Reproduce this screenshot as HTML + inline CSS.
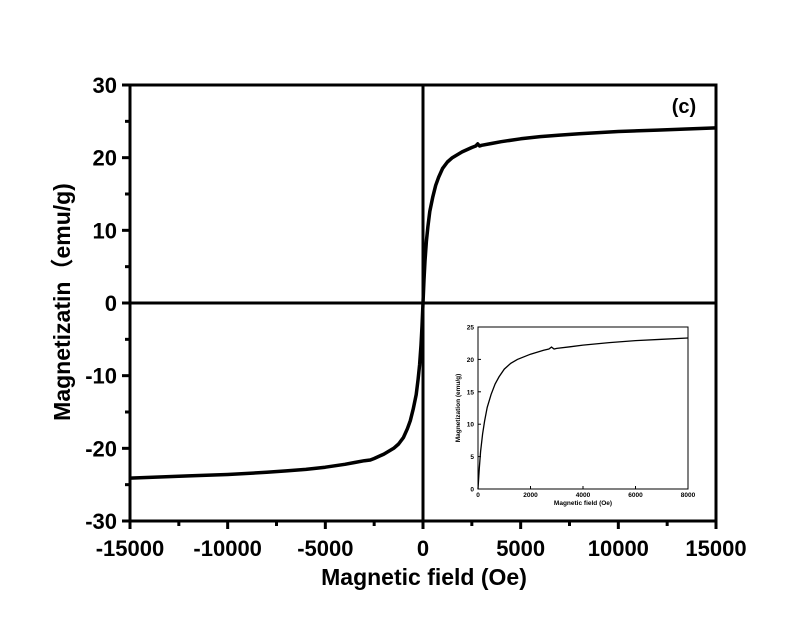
<!DOCTYPE html>
<html><head><meta charset="utf-8"><style>
html,body{margin:0;padding:0;background:#fff;}
svg{display:block;}
text{font-family:"Liberation Sans","Noto Sans CJK SC",sans-serif;font-weight:bold;fill:#000;}
</style></head><body>
<svg id="chart" width="800" height="633"></svg>
<script>
const fieldPos = [0,50,100,175,250,350,500,650,800,1000,1250,1500,2000,2500,2700,2800,2900,3000,3500,4000,5000,6000,7000,8000,10000,12000,15000];
const magPos   = [0,3.2,5.8,8.5,10.5,12.6,14.6,16.2,17.3,18.5,19.4,20.0,20.8,21.4,21.6,21.9,21.6,21.7,21.95,22.2,22.6,22.9,23.1,23.3,23.6,23.8,24.1];
const bumpField = [2800,2900];
const mainXTicks = [-15000,-10000,-5000,0,5000,10000,15000];
const mainYTicks = [-30,-20,-10,0,10,20,30];
const insetXTicks = [0,2000,4000,6000,8000];
const insetYTicks = [0,5,10,15,20,25];

const NS='http://www.w3.org/2000/svg';
const svg=document.getElementById('chart');
function el(tag,attrs,parent){const e=document.createElementNS(NS,tag);for(const k in attrs)e.setAttribute(k,attrs[k]);(parent||svg).appendChild(e);return e;}

const L=130,R=716,T=85,B=521;
const xs=v=>L+(v+15000)/30000*(R-L);
const ys=v=>B-(v+30)/60*(B-T);

const frame=el('rect',{x:L,y:T,width:R-L,height:B-T,fill:'none',stroke:'#000','stroke-width':3});



mainXTicks.forEach(v=>{
  const t=el('line',{x1:xs(v),x2:xs(v),y1:B,y2:B+8,stroke:'#000','stroke-width':3});
  
  
  const lb=el('text',{x:xs(v),y:B+35,'text-anchor':'middle','font-size':22});
  lb.textContent=v;
  
  
});
for(let v=-12500;v<15000;v+=5000){
  const t=el('line',{x1:xs(v),x2:xs(v),y1:B,y2:B+5,stroke:'#000','stroke-width':3});
  
  
}
mainYTicks.forEach(v=>{
  const t=el('line',{x1:L-8,x2:L,y1:ys(v),y2:ys(v),stroke:'#000','stroke-width':3});
  
  
  const lb=el('text',{x:L-13,y:ys(v)+8,'text-anchor':'end','font-size':22});
  lb.textContent=v;
  
  
});
for(let v=-25;v<30;v+=10){
  const t=el('line',{x1:L-5,x2:L,y1:ys(v),y2:ys(v),stroke:'#000','stroke-width':3});
  
  
}
const z1=el('line',{x1:L,x2:R,y1:ys(0),y2:ys(0),stroke:'#000','stroke-width':3});


const z2=el('line',{x1:xs(0),x2:xs(0),y1:T,y2:B,stroke:'#000','stroke-width':3});



let pts=[];
for(let i=fieldPos.length-1;i>0;i--){if(bumpField.indexOf(fieldPos[i])<0)pts.push([-fieldPos[i],-magPos[i]]);}
for(let i=0;i<fieldPos.length;i++)pts.push([fieldPos[i],magPos[i]]);
const curve=el('polyline',{points:pts.map(p=>xs(p[0]).toFixed(1)+','+ys(p[1]).toFixed(1)).join(' '),fill:'none',stroke:'#000','stroke-width':3.5,'stroke-linejoin':'round'});



const xt=el('text',{x:424,y:585,'text-anchor':'middle','font-size':23});
xt.textContent='Magnetic field (Oe)';


const yt=el('text',{x:0,y:0,'text-anchor':'middle','font-size':23,transform:'translate(70,302) rotate(-90)'});
yt.textContent='Magnetizatin（emu/g)';


const pl=el('text',{x:684,y:113,'text-anchor':'middle','font-size':20});
pl.textContent='(c)';



const iL=478,iR=688,iT=327,iB=489;
const ixs=v=>iL+v/8000*(iR-iL);
const iys=v=>iB-v/25*(iB-iT);
const ibg=el('rect',{x:iL,y:iT,width:iR-iL,height:iB-iT,fill:'#fff',stroke:'#000','stroke-width':1});


insetXTicks.forEach(v=>{
  const t=el('line',{x1:ixs(v),x2:ixs(v),y1:iB,y2:iB-3,stroke:'#000','stroke-width':1});
  
  
  const lb=el('text',{x:ixs(v),y:iB+8,'text-anchor':'middle','font-size':6.5,'font-weight':'normal'});
  lb.textContent=v;
  
  
});
insetYTicks.forEach(v=>{
  const t=el('line',{x1:iL,x2:iL+3,y1:iys(v),y2:iys(v),stroke:'#000','stroke-width':1});
  
  
  const lb=el('text',{x:iL-4,y:iys(v)+2.5,'text-anchor':'end','font-size':6.5,'font-weight':'normal'});
  lb.textContent=v;
  
  
});
const ipts=[];
for(let i=0;i<fieldPos.length;i++){if(fieldPos[i]<=8000)ipts.push([fieldPos[i],magPos[i]]);}
const icurve=el('polyline',{points:ipts.map(p=>ixs(p[0]).toFixed(1)+','+iys(p[1]).toFixed(1)).join(' '),fill:'none',stroke:'#000','stroke-width':1.3});


const ixt=el('text',{x:(iL+iR)/2,y:iB+16,'text-anchor':'middle','font-size':6.5});
ixt.textContent='Magnetic field (Oe)';


const iyt=el('text',{x:0,y:0,'text-anchor':'middle','font-size':6.5,transform:'translate(460,'+((iT+iB)/2)+') rotate(-90)'});
iyt.textContent='Magnetization (emu/g)';


</script>
</body></html>
